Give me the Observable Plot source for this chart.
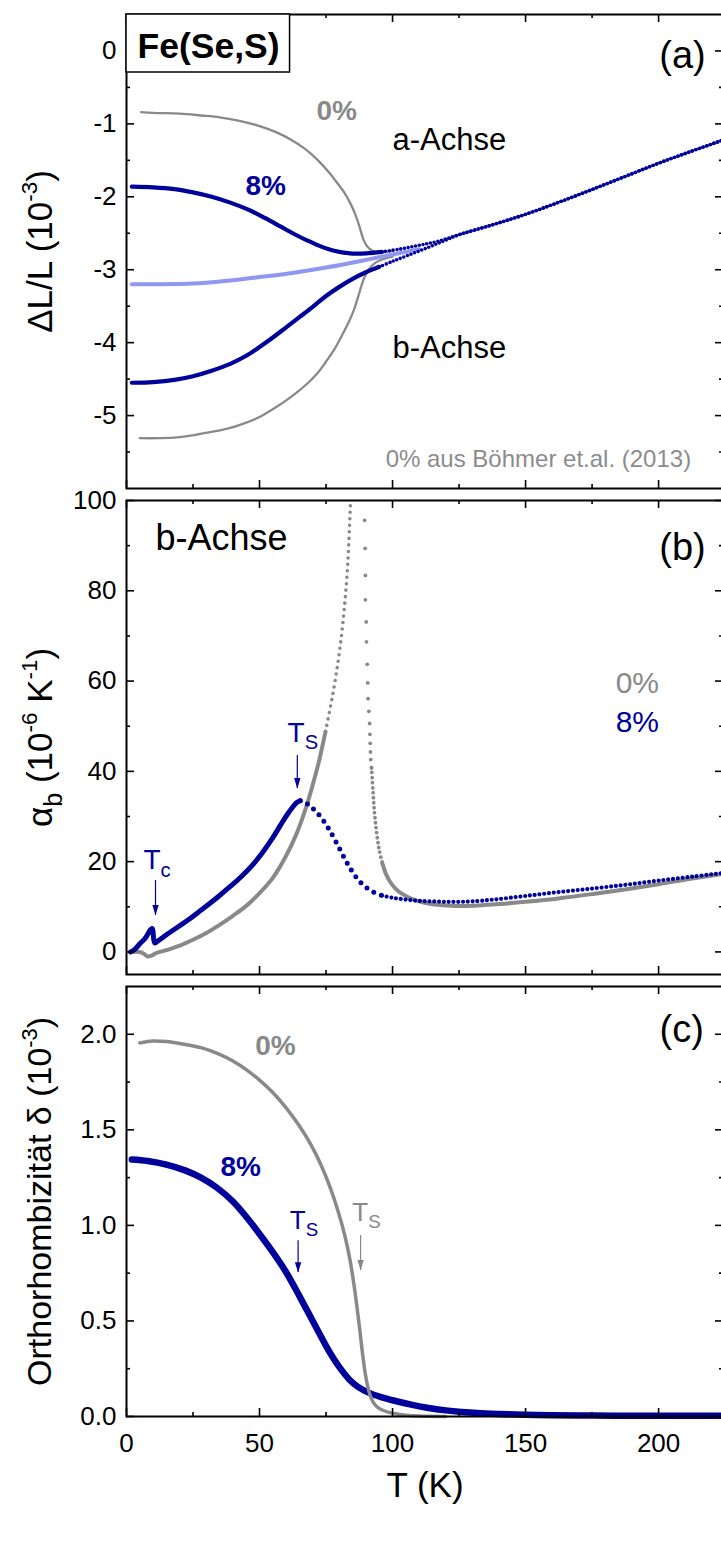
<!DOCTYPE html>
<html><head><meta charset="utf-8">
<script src="https://cdn.jsdelivr.net/npm/d3@7"></script>
<script src="https://cdn.jsdelivr.net/npm/@observablehq/plot@0.6"></script>
<style>
html,body{margin:0;padding:0;background:#fff;overflow:hidden;}
#chart{width:721px;overflow:hidden;}
#chart svg{display:block;max-width:none !important;height:auto;}
</style></head><body><div id="chart"></div>
<script>
// ---------- colours
const NAVY = "#00009a", GRAY = "#898989", LIGHT = "#8f97f2", NOTE = "#8c8c8c";

// ---------- shared temperature ticks
const xMajor = [0, 50, 100, 150, 200];
const xMinor = [25, 75, 125, 175];

// ---------- panel (a): ΔL/L (10^-3)
const aMajor = [0, -1, -2, -3, -4, -5];
const aMinor = [-0.5, -1.5, -2.5, -3.5, -4.5, -5.5];
// 0 %, a-axis
const T_a0a  = [5.5, 10, 20, 28, 35, 42, 50, 56, 62, 67, 72, 76, 79, 82, 84, 86, 87.5, 89, 90.5, 92.5, 95, 100];
const dL_a0a = [-0.84, -0.85, -0.86, -0.885, -0.91, -0.955, -1.03, -1.11, -1.22, -1.34, -1.5, -1.66, -1.8, -1.95, -2.08, -2.24, -2.4, -2.58, -2.68, -2.74, -2.76, -2.74];
// 0 %, b-axis
const T_a0b  = [5, 12, 19, 25, 31, 38, 44, 50, 56, 62, 68, 72, 75, 78, 81, 83.5, 85.5, 87, 88.3, 89.5, 91, 93, 96, 100];
const dL_a0b = [-5.31, -5.31, -5.3, -5.27, -5.23, -5.18, -5.11, -5.02, -4.89, -4.74, -4.56, -4.41, -4.26, -4.1, -3.9, -3.72, -3.55, -3.38, -3.22, -3.1, -3.0, -2.92, -2.86, -2.82];
// 8 %, a-axis (below merge)
const T_a8a  = [2, 10, 18, 25, 32, 39, 46, 52, 58, 63, 68, 73, 78, 84, 90, 96, 103, 110, 117];
const dL_a8a = [-1.86, -1.87, -1.895, -1.94, -2.0, -2.08, -2.18, -2.29, -2.41, -2.51, -2.6, -2.68, -2.74, -2.775, -2.775, -2.755, -2.715, -2.665, -2.61];
// 8 %, b-axis (below merge)
const T_a8b  = [2, 10, 18, 25, 32, 39, 45, 50, 55, 60, 65, 70, 75, 80, 85, 90, 95, 100, 106, 113, 119];
const dL_a8b = [-4.55, -4.54, -4.51, -4.46, -4.385, -4.29, -4.18, -4.06, -3.93, -3.79, -3.65, -3.51, -3.36, -3.235, -3.125, -3.035, -2.96, -2.885, -2.8, -2.7, -2.61];
// 8 %, tetragonal (common) branch
const T_a8hi  = [125, 137.5, 150, 162.5, 175, 187.5, 200, 212, 224.4];
const dL_a8hi = [-2.52, -2.385, -2.24, -2.075, -1.9, -1.72, -1.54, -1.38, -1.22];
// 8 %, mean of a and b (light blue)
const T_aLb  = [2, 10, 25, 38, 50, 63, 75, 88, 100, 110];
const dL_aLb = [-3.2, -3.2, -3.19, -3.15, -3.1, -3.04, -2.97, -2.88, -2.79, -2.72];

// ---------- panel (b): alpha_b (10^-6 K^-1)
const bMajor = [0, 20, 40, 60, 80, 100];
const bMinor = [10, 30, 50, 70, 90];
// 0 %, rising side
const T_b0up  = [2.5, 5, 6.5, 8, 9.5, 11, 15, 20, 25, 30, 35, 40, 45, 50, 55, 60, 64, 67.5, 70, 72.3, 74.8, 77.3, 79.5, 81.1, 82.3, 83.2, 84.2, 85];
const al_b0up = [0, 0, -0.4, -1, -0.8, -0.3, 0.4, 1.4, 2.7, 4.2, 6.0, 8.0, 10.2, 13.0, 16.4, 21.3, 26.3, 32.0, 37, 42.1, 48.8, 56.3, 64.2, 71.6, 79, 86.3, 99.6, 111];
// 0 %, falling side (sparse points)
const T_b0dn  = [89.5, 89.7, 89.8, 89.8, 90.1, 90.2, 90.5, 90.7, 90.8, 91.1, 91.4, 91.5, 91.6, 91.7, 91.8, 92.1];
const al_b0dn = [95.6, 89.4, 83.4, 78.0, 73.1, 68.7, 63.7, 59.6, 56.1, 53.3, 50.6, 48.2, 46.2, 44.3, 42.6, 40.8];
// 0 %, above the transition
const T_b0lo  = [92.1, 92.6, 93.2, 94, 95, 96.2, 97.5, 99, 101, 103.5, 107, 112, 119, 126, 132, 140, 150, 163, 176, 188, 200, 212, 224.4];
const al_b0lo = [40.8, 36.0, 31.0, 26.5, 22.6, 19.6, 17.3, 15.6, 14.1, 12.9, 11.8, 10.9, 10.35, 10.2, 10.3, 10.6, 11.1, 11.9, 12.9, 13.9, 15.0, 16.2, 17.3];
// 8 %
const T_b8  = [1.5, 3, 5, 7, 9.6, 10.6, 12, 15, 19, 23, 27, 31, 35, 39, 43, 47, 51, 55, 58, 60.5, 62.5, 64, 65.3, 66.7, 68, 70, 72, 74, 76, 78, 80, 82, 84, 86, 88, 90.5, 93, 96, 100, 105, 110, 115, 120, 125, 130, 138, 150, 163, 176, 188, 200, 213, 224.4];
const al_b8 = [0, 0.5, 1.8, 3.0, 5.2, 2.0, 2.5, 3.8, 5.4, 7.0, 8.8, 10.6, 12.5, 14.5, 16.6, 19.0, 21.9, 25.3, 28.2, 30.5, 32.1, 33.1, 33.5, 33.3, 32.8, 31.8, 30.6, 29.1, 27.3, 25.2, 23.0, 20.7, 18.6, 16.8, 15.4, 14.1, 13.2, 12.5, 12.0, 11.6, 11.3, 11.2, 11.1, 11.1, 11.2, 11.6, 12.4, 13.3, 14.1, 14.9, 15.8, 16.7, 17.5];

// ---------- panel (c): orthorhombicity delta (10^-3)
const cMajor = [0, 0.5, 1, 1.5, 2];
const cMinor = [0.25, 0.75, 1.25, 1.75];
const T_c0  = [5, 10, 15, 20, 28, 35, 40, 45, 50, 55, 60, 65, 69, 73, 76.5, 79.5, 82, 84, 85.5, 86.7, 87.8, 88.8, 89.8, 90.8, 92, 93.5, 95.5, 98, 101, 105, 110, 120];
const de_c0 = [1.955, 1.965, 1.962, 1.952, 1.93, 1.895, 1.86, 1.815, 1.76, 1.695, 1.615, 1.52, 1.43, 1.32, 1.2, 1.075, 0.95, 0.82, 0.69, 0.565, 0.44, 0.32, 0.22, 0.15, 0.095, 0.06, 0.038, 0.024, 0.014, 0.007, 0.002, 0];
const T_c8  = [2, 8, 15, 22, 28, 34, 40, 45, 50, 55, 60, 65, 70, 75, 78, 81, 84, 87, 91, 96, 100, 107, 113, 120, 126, 135, 150, 175, 200, 224.4];
const de_c8 = [1.345, 1.337, 1.318, 1.288, 1.25, 1.197, 1.125, 1.045, 0.955, 0.86, 0.755, 0.63, 0.5, 0.37, 0.3, 0.24, 0.19, 0.155, 0.125, 0.1, 0.085, 0.062, 0.046, 0.032, 0.024, 0.016, 0.009, 0.005, 0.004, 0.004];

// ================= helpers =================
// the plot frame runs 2px past the 721px page edge, as in the cropped original
const W = 723, ML = 126, MR = 0, PW = W - ML - MR;
const XMAX = 224.4;
const FONT = "'Liberation Sans', Arial, Helvetica, sans-serif";
const rows = (T, V) => T.map((t, i) => ({T: t, v: V[i]}));
const part = (r, lo, hi) => r.filter(d => d.T >= lo && d.T <= hi);
const curve = "catmull-rom";

function base(height, mt, mb, ydomain) {
  return {
    width: W, height, marginLeft: ML, marginRight: MR, marginTop: mt, marginBottom: mb,
    x: {domain: [0, XMAX], axis: null},
    y: {domain: ydomain, axis: null},
    style: {fontFamily: FONT, fontSize: "26px", color: "black", background: "white", overflow: "visible", maxWidth: "none"}
  };
}
function frameMarks(PH, yMaj, yMin) {
  const s = {stroke: "black", strokeWidth: 1.6};
  return [
    Plot.tickY(yMaj, {y: d => d, insetRight: PW - 8, ...s}),
    Plot.tickY(yMin, {y: d => d, insetRight: PW - 4, ...s}),
    Plot.tickY(yMaj, {y: d => d, insetLeft: PW - 8, ...s}),
    Plot.tickY(yMin, {y: d => d, insetLeft: PW - 4, ...s}),
    Plot.tickX(xMajor, {x: d => d, insetBottom: PH - 8, ...s}),
    Plot.tickX(xMinor, {x: d => d, insetBottom: PH - 4, ...s}),
    Plot.tickX(xMajor, {x: d => d, insetTop: PH - 8, ...s}),
    Plot.tickX(xMinor, {x: d => d, insetTop: PH - 4, ...s}),
    Plot.frame({stroke: "black", strokeWidth: 2})
  ];
}
const label = (T, v, text, o = {}) => Plot.text([{T, v, text}], {x: "T", y: "v", text: "text", fontSize: 28, ...o});
const headSymbol = {draw(ctx, size) { const r = Math.sqrt(size / Math.PI); ctx.moveTo(0, 0); ctx.lineTo(-r * 0.8, -r * 2.6); ctx.lineTo(r * 0.8, -r * 2.6); ctx.closePath(); }};
const arrow = (T, v1, v2, color) => [
  Plot.ruleX([{T, v1, v2}], {x: "T", y1: "v1", y2: "v2", stroke: color, strokeWidth: 1.2}),
  Plot.dot([{T, v: v2}], {x: "T", y: "v", symbol: headSymbol, r: 4, fill: color, stroke: "none"})
];
const yTitle = (text, size) => Plot.text([text], {text: d => d, frameAnchor: "left", textAnchor: "middle", lineAnchor: "middle", rotate: -90, dx: -86, fontSize: size});
const yLabels = (ticks, fmt) => Plot.axisY({ticks, tickSize: 0, tickPadding: 10, fontSize: 26, label: null, tickFormat: fmt});
const dotted = (w, gap) => ({strokeWidth: w, strokeDasharray: `0 ${gap}`, strokeLinecap: "round"});

// ================= panel (a) =================
const PHa = 474;
const a8a = rows(T_a8a.concat(T_a8hi), dL_a8a.concat(dL_a8hi));
const a8b = rows(T_a8b.concat(T_a8hi), dL_a8b.concat(dL_a8hi));
const plotA = Plot.plot({
  ...base(494, 14, 6, [-6, 0.5]),
  marks: [
    Plot.line(rows(T_a0a, dL_a0a), {x: "T", y: "v", stroke: GRAY, strokeWidth: 2.3, curve}),
    Plot.line(rows(T_a0b, dL_a0b), {x: "T", y: "v", stroke: GRAY, strokeWidth: 2.3, curve}),
    Plot.line(rows(T_aLb, dL_aLb), {x: "T", y: "v", stroke: LIGHT, strokeWidth: 4, curve}),
    Plot.line(part(a8a, 0, 96), {x: "T", y: "v", stroke: NAVY, strokeWidth: 4.2, curve}),
    Plot.line(part(a8a, 96, 300), {x: "T", y: "v", stroke: NAVY, ...dotted(3.6, 3.8), curve}),
    Plot.line(part(a8b, 0, 95), {x: "T", y: "v", stroke: NAVY, strokeWidth: 4.2, curve}),
    Plot.line(part(a8b, 95, 300), {x: "T", y: "v", stroke: NAVY, ...dotted(3.6, 3.8), curve}),
    ...frameMarks(PHa, aMajor, aMinor),
    yLabels(aMajor, d => String(d)),
    yTitle("ΔL/L (10^{-3})", 35),
    Plot.text(["Fe(Se,S)"], {text: d => d, frameAnchor: "top-left", textAnchor: "start", lineAnchor: "top", dx: 11, dy: 18, fontSize: 35.5, fontWeight: "bold"}),
    label(79, -0.82, "0%", {fill: GRAY, fontWeight: "bold"}),
    label(52.3, -1.85, "8%", {fill: NAVY, fontWeight: "bold"}),
    label(100, -1.22, "a-Achse", {textAnchor: "start", fontSize: 31}),
    label(100, -4.07, "b-Achse", {textAnchor: "start", fontSize: 31}),
    label(97.4, -5.6, "0% aus Böhmer et.al. (2013)", {textAnchor: "start", fontSize: 24, fill: NOTE}),
    label(217.7, -0.06, "(a)", {textAnchor: "end", fontSize: 38})
  ]
});

// ================= panel (b) =================
const PHb = 474;
const b0up = rows(T_b0up, al_b0up);
const b0lo = rows(T_b0lo, al_b0lo);
const b8 = rows(T_b8, al_b8);
const plotB = Plot.plot({
  ...base(486, 6, 6, [-5, 100]),
  marks: [
    Plot.line(part(b0up, 0, 74.8), {x: "T", y: "v", stroke: GRAY, strokeWidth: 4, curve, clip: true}),
    Plot.line(part(b0up, 74.8, 300), {x: "T", y: "v", stroke: GRAY, ...dotted(3.6, 6.5), curve, clip: true}),
    Plot.dot(rows(T_b0dn, al_b0dn), {x: "T", y: "v", r: 1.9, fill: GRAY, clip: true}),
    Plot.line(part(b0lo, 0, 96.2), {x: "T", y: "v", stroke: GRAY, ...dotted(3.8, 5), curve}),
    Plot.line(part(b0lo, 96.2, 300), {x: "T", y: "v", stroke: GRAY, strokeWidth: 4, curve}),
    Plot.line(part(b8, 0, 65.3), {x: "T", y: "v", stroke: NAVY, strokeWidth: 5, curve}),
    Plot.line(part(b8, 65.3, 96), {x: "T", y: "v", stroke: NAVY, ...dotted(5, 8), curve}),
    Plot.line(part(b8, 96, 300), {x: "T", y: "v", stroke: NAVY, ...dotted(4.2, 4.8), curve}),
    ...frameMarks(PHb, bMajor, bMinor),
    yLabels(bMajor, d => String(d)),
    yTitle("α_{b} (10^{-6} K^{-1})", 35),
    label(10.9, 91.6, "b-Achse", {textAnchor: "start", fontSize: 36}),
    label(217.7, 89.6, "(b)", {textAnchor: "end", fontSize: 38}),
    label(192, 59.5, "0%", {fill: GRAY, fontSize: 30}),
    label(192, 50.8, "8%", {fill: NAVY, fontSize: 30}),
    label(66.3, 48.6, "T_{S}", {fill: NAVY, fontSize: 28}),
    ...arrow(64.2, 43.5, 36.2, NAVY),
    label(11.5, 20.3, "T_{c}", {fill: NAVY, fontSize: 28}),
    ...arrow(10.9, 15.8, 8.1, NAVY)
  ]
});

// ================= panel (c) =================
const PHc = 430;
const plotC = Plot.plot({
  ...base(577, 6, 141, [0, 2.25]),
  marks: [
    Plot.line(rows(T_c8, de_c8), {x: "T", y: "v", stroke: NAVY, strokeWidth: 6.5, curve}),
    Plot.line(rows(T_c0, de_c0), {x: "T", y: "v", stroke: GRAY, strokeWidth: 3.5, curve}),
    ...frameMarks(PHc, cMajor, cMinor),
    yLabels(cMajor, d => d.toFixed(1)),
    Plot.axisX({ticks: xMajor, tickSize: 0, tickPadding: 17, fontSize: 26, label: null, tickFormat: d => String(d)}),
    yTitle("Orthorhombizität δ (10^{-3})", 34),
    Plot.text(["T (K)"], {text: d => d, frameAnchor: "bottom", textAnchor: "middle", lineAnchor: "middle", dy: 69, fontSize: 35}),
    label(217, 2.025, "(c)", {textAnchor: "end", fontSize: 38}),
    label(56, 1.94, "0%", {fill: GRAY, fontWeight: "bold"}),
    label(42.9, 1.303, "8%", {fill: NAVY, fontWeight: "bold"}),
    label(66.7, 1.025, "T_{S}", {fill: NAVY, fontSize: 26}),
    ...arrow(64.5, 0.92, 0.753, NAVY),
    label(90.2, 1.067, "T_{S}", {fill: GRAY, fontSize: 26}),
    ...arrow(88, 0.947, 0.764, GRAY)
  ]
});

const chart = document.getElementById("chart");
[plotA, plotB, plotC].forEach(svg => { svg.style.maxWidth = "none"; svg.style.width = W + "px"; svg.style.height = svg.getAttribute("height") + "px"; });
chart.append(plotA, plotB, plotC);

// ---- sub/superscripts: rebuild "x_{..}" and "x^{..}" as tspans
function richify(svg) {
  d3.select(svg).selectAll("text").each(function () {
    const t = this.textContent;
    if (!/[_^]\{/.test(t)) return;
    const fs = parseFloat(getComputedStyle(this).fontSize) || 26;
    const sel = d3.select(this);
    sel.text(null);
    let shift = 0;
    for (const p of t.split(/([_^]\{[^}]*\})/)) {
      if (!p) continue;
      const m = p.match(/^([_^])\{(.*)\}$/);
      if (m) {
        const target = m[1] === "^" ? -0.42 * fs : 0.28 * fs;
        sel.append("tspan").attr("dy", target - shift).attr("font-size", (m[1] === "^" ? 0.64 : 0.72) * fs).text(m[2]);
        shift = target;
      } else {
        sel.append("tspan").attr("dy", -shift).text(p);
        shift = 0;
      }
    }
  });
}
[plotA, plotB, plotC].forEach(richify);

// ---- box around the compound name
(function () {
  const txt = d3.select(plotA).selectAll("text").filter(function () { return this.textContent === "Fe(Se,S)"; }).node();
  if (!txt) return;
  const r = txt.getBoundingClientRect(), s = plotA.getBoundingClientRect();
  const right = r.right - s.left + 10;
  const g = txt.parentNode;
  const rect = document.createElementNS("http://www.w3.org/2000/svg", "rect");
  rect.setAttribute("x", ML); rect.setAttribute("y", 14);
  rect.setAttribute("width", right - ML); rect.setAttribute("height", 58);
  rect.setAttribute("fill", "white"); rect.setAttribute("stroke", "black"); rect.setAttribute("stroke-width", 1.5);
  g.parentNode.insertBefore(rect, g);
})();
</script></body></html>
